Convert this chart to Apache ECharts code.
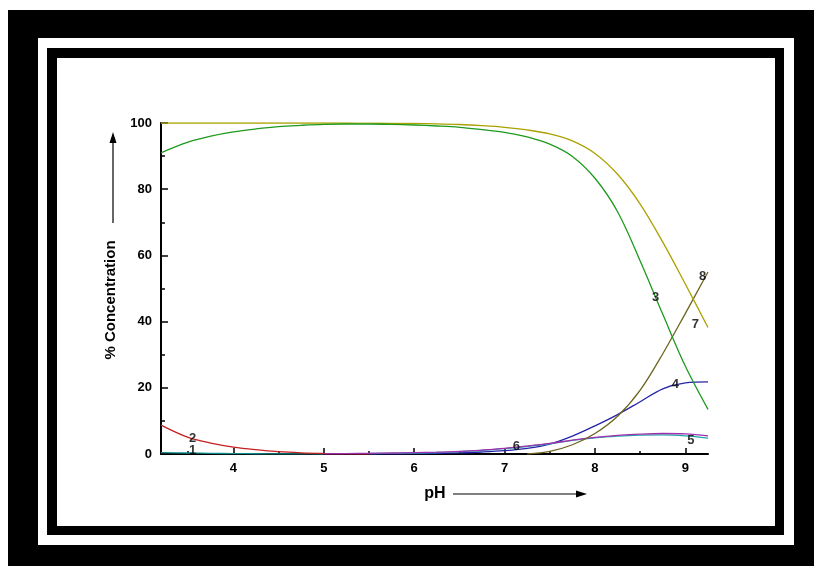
<!DOCTYPE html>
<html>
<head>
<meta charset="utf-8">
<script src="https://cdn.jsdelivr.net/npm/echarts@6/dist/echarts.min.js"></script>
<style>
html,body{margin:0;padding:0;background:#fff;}
#c{width:814px;height:566px;}
</style>
</head>
<body>
<div id="c"></div>
<script>
// pH grid shared by all curves
const pH = [3.2, 3.5, 3.75, 4.0, 4.25, 4.5, 4.75, 5.0, 5.25, 5.5, 5.75, 6.0, 6.25, 6.5, 6.75, 7.0, 7.25, 7.5, 7.75, 8.0, 8.25, 8.5, 8.75, 9.0, 9.25];

// % concentration of each species (null = not drawn)
const curve1 = [0.4, 0.3, 0.2, 0.12, 0.08, 0.05, 0.02, 0.0, null, null, null, null, null, null, null, null, null, null, null, null, null, null, null, null, null];
const curve2 = [8.7, 5.0, 3.3, 2.1, 1.3, 0.7, 0.35, 0.15, 0.05, 0.0, null, null, null, null, null, null, null, null, null, null, null, null, null, null, null];
const curve3 = [91.0, 94.2, 96.0, 97.3, 98.2, 98.9, 99.3, 99.6, 99.7, 99.7, 99.6, 99.4, 99.1, 98.7, 98.0, 97.2, 95.8, 93.6, 89.9, 83.3, 73.2, 58.3, 42.2, 26.5, 13.5];
const curve4 = [null, null, null, null, null, null, null, null, null, 0.0, 0.05, 0.1, 0.2, 0.35, 0.6, 1.0, 1.7, 3.0, 5.4, 8.5, 11.9, 15.8, 19.7, 21.5, 21.8];
const curve5 = [null, null, null, null, null, null, null, null, null, 0.15, 0.2, 0.3, 0.45, 0.7, 1.1, 1.6, 2.3, 3.1, 4.1, 4.9, 5.4, 5.7, 5.8, 5.5, 4.8];
const curve6 = [null, null, null, null, null, null, null, 0.05, 0.1, 0.2, 0.3, 0.4, 0.55, 0.8, 1.2, 1.7, 2.4, 3.2, 4.2, 5.0, 5.6, 6.0, 6.2, 6.1, 5.5];
const curve7 = [100, 100, 100, 100, 100, 100, 100, 100, 100, 99.95, 99.9, 99.85, 99.75, 99.55, 99.2, 98.7, 97.9, 96.7, 94.6, 90.8, 84.5, 75.5, 64.0, 51.3, 38.2];
const curve8 = [null, null, null, null, null, null, null, null, null, null, null, null, null, null, null, null, 0.0, 0.8, 2.8, 6.2, 11.4, 19.3, 30.3, 42.5, 55.0];

// tick labels
const xTicks = [4, 5, 6, 7, 8, 9];
const xMinorTicks = [3.5, 4.5, 5.5, 6.5, 7.5, 8.5];

// curve number labels (pH, %)
const labelText = ['1', '2', '3', '4', '5', '6', '7', '8'];
const labelPH   = [3.55, 3.55, 8.67, 8.89, 9.06, 7.13, 9.11, 9.19];
const labelY    = [1.2, 4.8, 47.4, 21.1, 4.2, 2.4, 39.0, 53.8];

const colors = {
  c1: '#118c8c', c2: '#c42020', c3: '#1e9a1e', c4: '#2424a8',
  c5: '#20a8a8', c6: '#a030b0', c7: '#aaa200', c8: '#6e6420'
};

function pairs(vals) {
  const out = [];
  pH.forEach((x, i) => { if (vals[i] !== null) out.push([x, vals[i]]); });
  return out;
}
function line(vals, color, z) {
  return {
    type: 'line', data: pairs(vals), smooth: 0.35, symbol: 'none',
    lineStyle: { color: color, width: 1.3 }, z: z || 2, silent: true
  };
}

const chart = echarts.init(document.getElementById('c'), null, { renderer: 'canvas' });
const font = 'Liberation Sans, Arial, sans-serif';

chart.setOption({
  animation: false,
  grid: { left: 161, top: 123, width: 547, height: 331 },
  xAxis: [{
    type: 'value', min: 3.2, max: 9.25,
    axisLine: { show: true, lineStyle: { color: '#000', width: 2 } },
    axisTick: { show: true, inside: true, length: 6, customValues: xTicks, lineStyle: { color: '#000', width: 1.5 } },
    axisLabel: { customValues: xTicks, color: '#000', fontWeight: 'bold', fontSize: 13, fontFamily: font, margin: 8 },
    splitLine: { show: false }
  }, {
    type: 'value', min: 3.2, max: 9.25, position: 'bottom',
    axisLine: { show: false },
    axisTick: { show: true, inside: true, length: 3, customValues: xMinorTicks, lineStyle: { color: '#000', width: 1.5 } },
    axisLabel: { show: false },
    splitLine: { show: false }
  }],
  yAxis: {
    type: 'value', min: 0, max: 100, interval: 20,
    axisLine: { show: true, lineStyle: { color: '#000', width: 2 } },
    axisTick: { show: true, inside: true, length: 7, lineStyle: { color: '#000', width: 1.5 } },
    minorTick: { show: true, splitNumber: 2, length: 4, lineStyle: { color: '#000', width: 1.5 } },
    axisLabel: { color: '#000', fontWeight: 'bold', fontSize: 13, fontFamily: font, margin: 9 },
    splitLine: { show: false }
  },
  series: [
    line(curve1, colors.c1),
    line(curve2, colors.c2),
    line(curve4, colors.c4),
    line(curve5, colors.c5),
    line(curve6, colors.c6),
    line(curve8, colors.c8),
    line(curve7, colors.c7, 3),
    line(curve3, colors.c3, 4),
    {
      type: 'scatter', symbolSize: 0, silent: true, z: 10,
      data: labelText.map((t, i) => ({ name: t, value: [labelPH[i], labelY[i]] })),
      label: { show: true, position: 'inside', formatter: p => p.name, color: '#000',
               fontWeight: 'bold', fontSize: 13, fontFamily: font }
    }
  ],
  graphic: [
    { type: 'rect', z: -20, shape: { x: 8, y: 10, width: 806, height: 556 }, style: { fill: '#000' } },
    { type: 'rect', z: -19, shape: { x: 38, y: 38, width: 756, height: 507 }, style: { fill: '#fff' } },
    { type: 'rect', z: -18, shape: { x: 47, y: 48, width: 737, height: 487 }, style: { fill: '#000' } },
    { type: 'rect', z: -17, shape: { x: 57, y: 58, width: 718, height: 468 }, style: { fill: '#fff' } },
    { type: 'text', z: 5, x: 111, y: 300, rotation: Math.PI / 2,
      style: { text: '% Concentration', font: 'bold 15px ' + font, fill: '#000', textAlign: 'center', textVerticalAlign: 'middle' } },
    { type: 'line', z: 5, shape: { x1: 113, y1: 223, x2: 113, y2: 140 }, style: { stroke: '#000', lineWidth: 1.2 } },
    { type: 'polygon', z: 5, shape: { points: [[113, 132], [109.5, 143], [116.5, 143]] }, style: { fill: '#000' } },
    { type: 'text', z: 5, x: 435, y: 494,
      style: { text: 'pH', font: 'bold 16px ' + font, fill: '#000', textAlign: 'center', textVerticalAlign: 'middle' } },
    { type: 'line', z: 5, shape: { x1: 453, y1: 494, x2: 578, y2: 494 }, style: { stroke: '#000', lineWidth: 1.2 } },
    { type: 'polygon', z: 5, shape: { points: [[587, 494], [576, 490.5], [576, 497.5]] }, style: { fill: '#000' } }
  ]
});
</script>
</body>
</html>
